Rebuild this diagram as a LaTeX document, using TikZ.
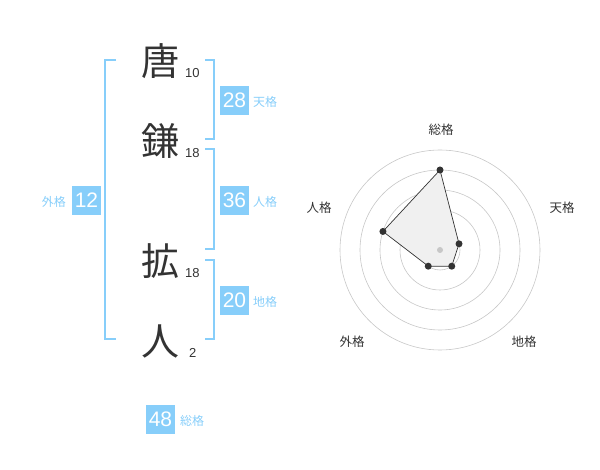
\documentclass[tikz,border=0pt]{standalone}
\usepackage{fontspec}
\setmainfont{Liberation Sans}
\newfontfamily\cjk{Noto Sans CJK JP}
\definecolor{kakublue}{HTML}{87CEFA}
\definecolor{inkgray}{HTML}{333333}

\begin{document}
\begin{tikzpicture}[x=1pt, y=-1pt,
  kanji/.style={text=inkgray, font=\cjk\fontsize{38}{38}\selectfont, inner sep=0pt},
  strokes/.style={text=inkgray, font=\fontsize{13}{13}\selectfont, inner sep=0pt, anchor=west},
  kakubox/.style={fill=kakublue, text=white, font=\fontsize{21}{21}\selectfont, minimum size=29pt, inner sep=0pt},
  kakuname/.style={text=kakublue, font=\cjk\fontsize{12}{12}\selectfont, inner sep=0pt},
  bracket/.style={draw=kakublue, line width=2pt},
  axisname/.style={text=inkgray, font=\cjk\fontsize{12.5}{12.5}\selectfont, inner sep=0pt},
  ring/.style={draw=black!22, line width=0.6pt},
  dot/.style={circle, fill=inkgray, inner sep=0pt, minimum size=7pt}]
\useasboundingbox (0,0) rectangle (600,470);

% name, one character after another
\node[kanji] (c1) at (160,61) {唐};
\node[kanji] (c2) at (160,141) {鎌};
\node[kanji] (c3) at (160,261) {拡};
\node[kanji] (c4) at (160,341) {人};

\node[strokes] (s1) at (185,73) {10};
\node[strokes] (s2) at (185,153) {18};
\node[strokes] (s3) at (185,273) {18};
\node[strokes] (s4) at (189,353) {2};

% brackets
\draw[bracket] (116,60) -- (105,60) -- (105,339) -- (116,339);
\draw[bracket] (205,60) -- (214,60) -- (214,139) -- (205,139);
\draw[bracket] (205,149) -- (214,149) -- (214,249) -- (205,249);
\draw[bracket] (205,260) -- (214,260) -- (214,339) -- (205,339);

% results
\node[kakubox] (ten) at (234.5,100.5) {28};
\node[kakuname, anchor=west] (tenname) at (253,102) {天格};
\node[kakubox] (jin) at (234.5,200.5) {36};
\node[kakuname, anchor=west] (jinname) at (253,202) {人格};
\node[kakubox] (chi) at (234.5,300.5) {20};
\node[kakuname, anchor=west] (chiname) at (253,302) {地格};
\node[kakubox] (gai) at (86.5,200.5) {12};
\node[kakuname, anchor=east] (gainame) at (66,202) {外格};
\node[kakubox] (sou) at (160.5,419) {48};
\node[kakuname, anchor=west] (souname) at (180,421) {総格};

% radar chart
\begin{scope}[shift={(440,250)}, y=1pt]
  \foreach \r in {20,40,60,80,100}
    \draw[ring] (0,0) circle (\r pt);
  \coordinate (psou) at (90:80);
  \coordinate (pten) at (18:20);
  \coordinate (pchi) at (-54:20);
  \coordinate (pgai) at (-126:20);
  \coordinate (pjin) at (162:60);
  \fill[black!6] (psou) -- (pten) -- (pchi) -- (pgai) -- (pjin) -- cycle;
  \node[circle, fill=black!22, inner sep=0pt, minimum size=6pt] (mid) at (0,0) {};
  \draw[inkgray, line width=0.7pt] (psou) -- (pten) -- (pchi) -- (pgai) -- (pjin) -- cycle;
  \foreach \p in {psou,pten,pchi,pgai,pjin}
    \node[dot] at (\p) {};
\end{scope}

\node[axisname] (asou) at (441,130) {総格};
\node[axisname] (aten) at (562,208) {天格};
\node[axisname] (ajin) at (319,208) {人格};
\node[axisname] (agai) at (352,342) {外格};
\node[axisname] (achi) at (524,342) {地格};
\end{tikzpicture}
\end{document}
